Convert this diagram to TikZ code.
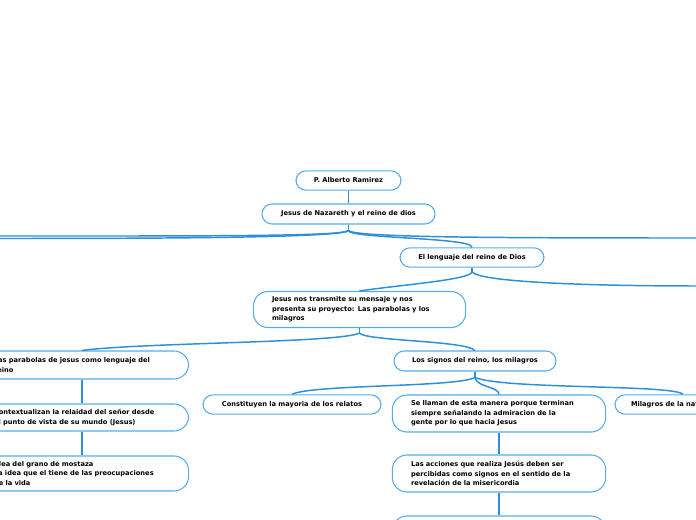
\documentclass[tikz,border=0pt]{standalone}
\usepackage{fontspec}
\setmainfont{DejaVu Sans}
\usepackage{xcolor}
\usetikzlibrary{positioning}
\definecolor{mapline}{HTML}{2B8FDB}
\definecolor{mapbox}{HTML}{55ADE8}

\begin{document}
\begin{tikzpicture}[x=0.75pt,y=-0.75pt,font=\fontsize{5}{7}\selectfont\bfseries,
  topic/.style={draw=mapbox,line width=0.8pt,rounded corners=7.5pt,fill=white,inner sep=0pt,minimum height=14.5pt,align=center},
  longtopic/.style={topic,rounded corners=11pt,align=left,text width=#1,inner xsep=14pt},
  link/.style={draw=mapline,line width=1.1pt},
  stem/.style={draw=mapline,line width=1pt}]
  \useasboundingbox (0,0) rectangle (696,520);
  \clip (0,0) rectangle (696,520);

  \node[topic,minimum width=78.75pt] (alberto) at (348.5,180.5) {P. Alberto Ramirez};
  \node[topic,minimum width=129.75pt,minimum height=15pt] (nazareth) at (348.5,214) {Jesus de Nazareth y el reino de dios};
  \node[topic,minimum width=108pt] (lenguaje) at (472,257.5) {El lenguaje del reino de Dios};
  \node[longtopic=131.25pt,minimum height=27pt] (transmite) at (359.5,309.5)
    {Jesus nos transmite su mensaje y nos\\presenta su proyecto: Las parabolas y los\\milagros};
  \node[longtopic=132pt,minimum height=21pt] (parabolas) at (82,365)
    {Las parabolas de jesus como lenguaje del\\reino};
  \node[longtopic=132pt,minimum height=20.25pt] (contexto) at (82,417.5)
    {Contextualizan la relaidad del señor desde\\el punto de vista de su mundo (Jesus)};
  \node[longtopic=132pt,minimum height=26.25pt] (mostaza) at (82,473.5)
    {Idea del grano de mostaza\\La idea que el tiene de las preocupaciones\\de la vida};
  \node[topic,minimum width=121.5pt,minimum height=15pt] (signos) at (475,361) {Los signos del reino, los milagros};
  \node[topic,minimum width=133.5pt] (relatos) at (292,404.5) {Constituyen la mayoria de los relatos};
  \node[longtopic=132pt,minimum height=27.75pt] (llaman) at (499,413.5)
    {Se llaman de esta manera porque terminan\\siempre señalando la admiracion de la\\gente por lo que hacia Jesus};
  \node[topic,align=left,text width=78pt,inner xsep=12pt] (naturaleza) at (683,404.5) {Milagros de la naturaleza};
  \node[longtopic=132pt,minimum height=27.75pt] (acciones) at (499,473.5)
    {Las acciones que realiza Jesús deben ser\\percibidas como signos en el sentido de la\\revelación de la misericordia};
  \node[longtopic=132pt,minimum height=27.75pt] (siguiente) at (499,534.5) {};

  \coordinate (westa) at (-5,236);
  \coordinate (westb) at (-5,238.5);
  \coordinate (easta) at (701,238);
  \coordinate (eastb) at (701,286);

  \draw[stem] (alberto) -- (nazareth);
  \draw[link] (nazareth.south) -- ++(0,6) coordinate (nazhub);
  \draw[link] (nazhub) .. controls +(0,8) and +(0,-10) .. (lenguaje.north);
  \draw[link] (nazhub) .. controls +(-4,6) and +(200,0) .. (westa);
  \draw[link] (nazhub) .. controls +(-6,7) and +(180,0) .. (westb);
  \draw[link] (nazhub) .. controls +(6,7) and +(-200,0) .. (easta);

  \draw[link] (lenguaje.south) -- ++(0,4) coordinate (lenhub);
  \draw[link] (lenhub) .. controls +(0,8) and +(40,-6) .. (transmite.north);
  \draw[link] (lenhub) .. controls +(6,10) and +(-120,0) .. (eastb);

  \draw[link] (transmite.south) -- ++(0,5) coordinate (trahub);
  \draw[link] (trahub) .. controls +(-20,10) and +(60,-8) .. (parabolas.north);
  \draw[link] (trahub) .. controls +(6,8) and +(-10,-10) .. (signos.north);

  \draw[link] (signos.south) -- ++(0,6) coordinate (sighub);
  \draw[link] (sighub) .. controls +(-20,10) and +(20,-10) .. (relatos.north);
  \draw[link] (sighub) .. controls +(2,10) and +(0,-8) .. (llaman.north);
  \draw[link] (sighub) .. controls +(30,12) and +(-10,-10) .. (naturaleza.north);

  \draw[stem] (parabolas) -- (contexto);
  \draw[stem] (contexto) -- (mostaza);
  \draw[stem] (llaman) -- (acciones);
  \draw[stem] (acciones) -- (siguiente);
\end{tikzpicture}
\end{document}
